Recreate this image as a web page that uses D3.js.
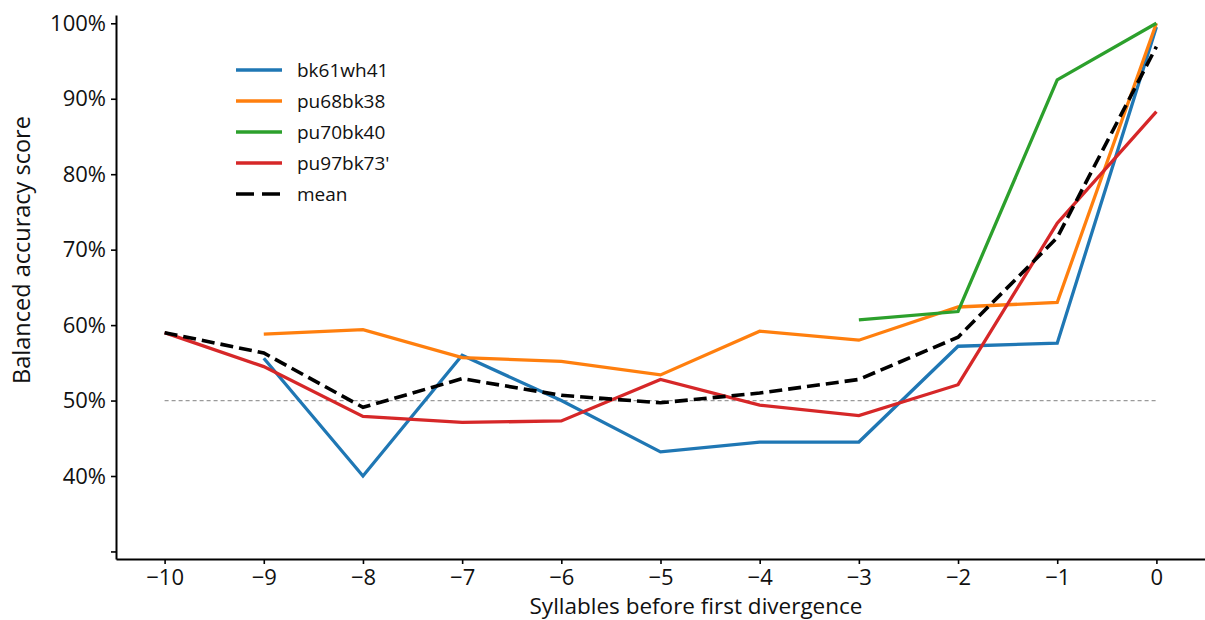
<!DOCTYPE html>
<html>
<head>
<meta charset="utf-8">
<script src="https://cdn.jsdelivr.net/npm/d3@7"></script>
<style>
  html, body { margin: 0; padding: 0; background: #fff; }
  svg { display: block; font-family: "Open Sans", "DejaVu Sans", sans-serif; }
</style>
</head>
<body>
<svg id="chart" width="1205" height="620"></svg>
<script>
// Syllable positions relative to the first divergence
const steps = [-10, -9, -8, -7, -6, -5, -4, -3, -2, -1, 0];

// Balanced accuracy per bird (null = no data at that position)
const bk61wh41  = [null, 0.556, 0.400, 0.560, 0.500, 0.432, 0.445, 0.445, 0.572, 0.576, 0.995];
const pu68bk38  = [null, 0.588, 0.594, 0.557, 0.552, 0.534, 0.592, 0.580, 0.624, 0.630, 1.000];
const pu70bk40  = [null, null, null, null, null, null, null, 0.607, 0.618, 0.925, 1.000];
const pu97bk73  = [0.590, 0.545, 0.479, 0.471, 0.473, 0.528, 0.494, 0.480, 0.521, 0.735, 0.883];
const meanScore = [0.590, 0.563, 0.491, 0.529, 0.507, 0.497, 0.510, 0.528, 0.584, 0.716, 0.969];

const seriesNames  = ["bk61wh41", "pu68bk38", "pu70bk40", "pu97bk73'", "mean"];
const seriesColors = ["#1f77b4", "#ff7f0e", "#2ca02c", "#d62728", "#000000"];

const yTickValues = [0.3, 0.4, 0.5, 0.6, 0.7, 0.8, 0.9, 1.0];
const yTickLabels = ["", "40%", "50%", "60%", "70%", "80%", "90%", "100%"];
const xTickLabels = ["\u221210", "\u22129", "\u22128", "\u22127", "\u22126", "\u22125", "\u22124", "\u22123", "\u22122", "\u22121", "0"];

const chance = 0.5;

const svg = d3.select("#chart");

const x = d3.scaleLinear().domain([-10.49, 0.49]).range([116, 1205]);
const y = d3.scaleLinear().domain([0.29, 1.011]).range([559, 15]);

// chance level
svg.append("line")
  .attr("x1", x(steps[0])).attr("x2", x(steps[steps.length - 1]))
  .attr("y1", y(chance)).attr("y2", y(chance))
  .attr("stroke", "#9a9a9a").attr("stroke-width", 1.2)
  .attr("stroke-dasharray", "4,3");

// axes
const yAxis = d3.axisLeft(y)
  .tickValues(yTickValues)
  .tickFormat((d, i) => yTickLabels[i])
  .tickSize(5).tickSizeOuter(0).tickPadding(5);

const gy = svg.append("g").attr("transform", `translate(${x.range()[0]},0)`).call(yAxis);
gy.select(".domain").attr("stroke", "#000").attr("stroke-width", 2);
gy.selectAll(".tick line").attr("stroke", "#000").attr("stroke-width", 1.6);
gy.selectAll(".tick text").attr("font-size", 22).attr("fill", "#111").attr("font-family", "\"Open Sans\", sans-serif");

const xAxis = d3.axisBottom(x)
  .tickValues(steps)
  .tickFormat((d, i) => xTickLabels[i])
  .tickSize(5).tickSizeOuter(0).tickPadding(5);

const gx = svg.append("g").attr("transform", `translate(0,${y.range()[0]})`).call(xAxis);
gx.select(".domain").attr("stroke", "#000").attr("stroke-width", 2);
gx.selectAll(".tick line").attr("stroke", "#000").attr("stroke-width", 1.6);
gx.selectAll(".tick text").attr("font-size", 22).attr("fill", "#111").attr("font-family", "\"Open Sans\", sans-serif");

// axis titles
svg.append("text")
  .attr("x", 696).attr("y", 614)
  .attr("text-anchor", "middle")
  .attr("font-size", 22.5).attr("fill", "#111")
  .text("Syllables before first divergence");

svg.append("text")
  .attr("transform", "translate(30,250) rotate(-90)")
  .attr("text-anchor", "middle")
  .attr("font-size", 23.5).attr("fill", "#111")
  .text("Balanced accuracy score");

// lines
const allSeries = [bk61wh41, pu68bk38, pu70bk40, pu97bk73, meanScore];
const line = d3.line()
  .defined(d => d.v !== null)
  .x(d => x(d.s))
  .y(d => y(d.v));

allSeries.forEach((vals, i) => {
  const pts = steps.map((s, j) => ({ s, v: vals[j] }));
  const isMean = seriesNames[i] === "mean";
  svg.append("path")
    .datum(pts)
    .attr("d", line)
    .attr("fill", "none")
    .attr("stroke", seriesColors[i])
    .attr("stroke-width", isMean ? 3.6 : 3.3)
    .attr("stroke-dasharray", isMean ? "13,6" : null)
    .attr("stroke-linejoin", "miter");
});

// legend
const legend = svg.append("g").attr("transform", "translate(236,70)");
seriesNames.forEach((name, i) => {
  const row = legend.append("g").attr("transform", `translate(0,${i * 31})`);
  const isMean = name === "mean";
  row.append("line")
    .attr("x1", 0).attr("x2", 46).attr("y1", 0).attr("y2", 0)
    .attr("stroke", seriesColors[i])
    .attr("stroke-width", isMean ? 3.6 : 3.3)
    .attr("stroke-dasharray", isMean ? "18,8" : null);
  row.append("text")
    .attr("x", 61).attr("y", 0).attr("dy", "0.35em")
    .attr("font-size", 19).attr("fill", "#111")
    .text(name);
});
</script>
</body>
</html>
